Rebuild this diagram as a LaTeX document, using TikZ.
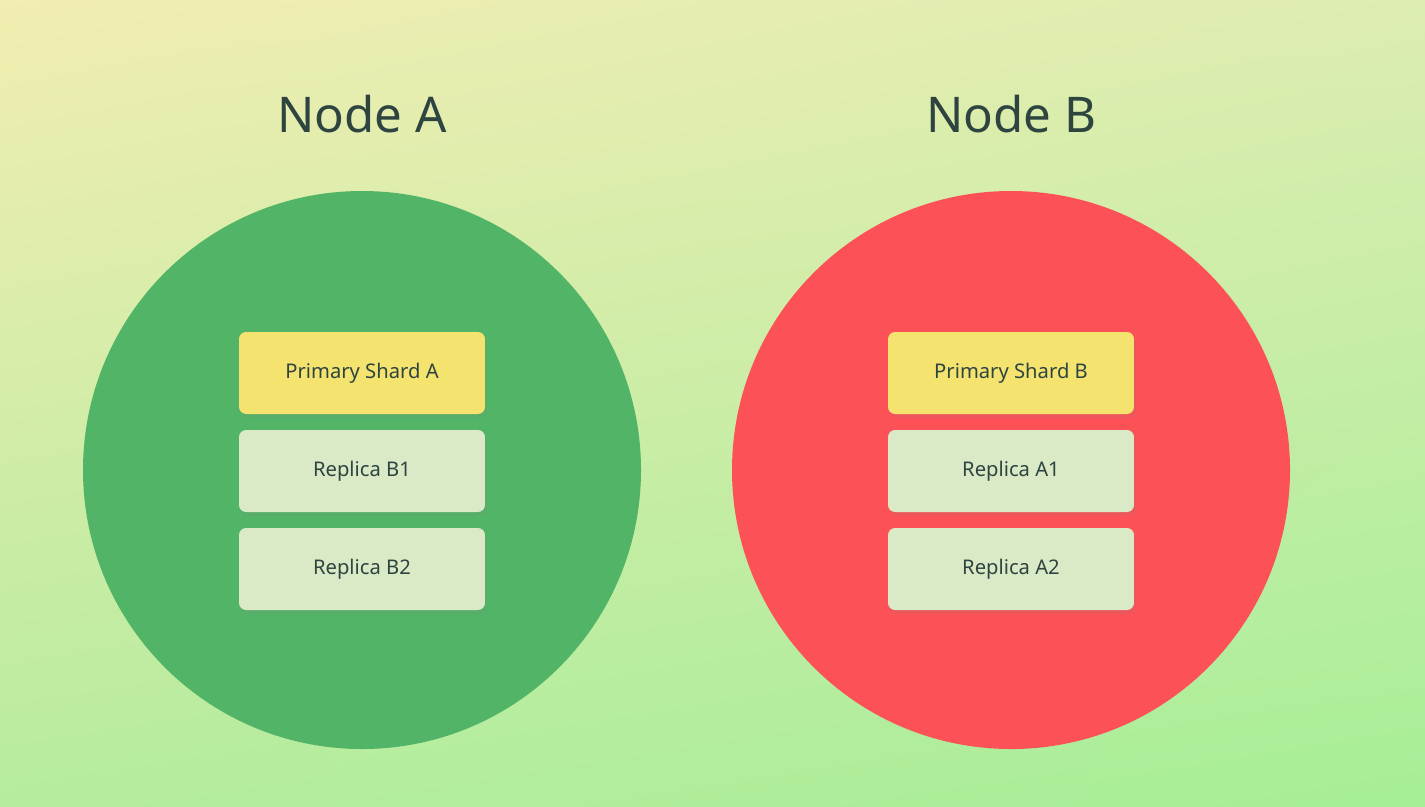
\documentclass[tikz,border=0pt]{standalone}
\usepackage{fontspec}
\setmainfont{Noto Sans}
\usetikzlibrary{shadows,shadings}
\definecolor{bgUL}{HTML}{F2EDB2}
\definecolor{bgUR}{HTML}{DDEDB0}
\definecolor{bgLL}{HTML}{B6EC9E}
\definecolor{bgLR}{HTML}{A6EE98}
\definecolor{okgreen}{HTML}{52B466}
\definecolor{downred}{HTML}{FC5257}
\definecolor{primfill}{HTML}{F5E370}
\definecolor{repfill}{HTML}{DAEAC7}
\definecolor{ink}{HTML}{2E4440}
\tikzset{
  shardbox/.style={rectangle, rounded corners=4pt, minimum width=4.92cm, minimum height=1.64cm,
    text=ink, font=\fontsize{11.5}{13}\selectfont\bfseries, drop shadow={opacity=0.12, shadow xshift=0.04cm, shadow yshift=-0.08cm}},
  primbox/.style={shardbox, fill=primfill},
  repbox/.style={shardbox, fill=repfill},
  title/.style={text=ink, font=\fontsize{28}{32}\selectfont\bfseries}
}
\begin{document}
\begin{tikzpicture}[x=0.02cm, y=-0.02cm]
	\shade[upper left=bgUL, upper right=bgUR, lower left=bgLL, lower right=bgLR] (0,0) rectangle (1425,806);
	\useasboundingbox (0,0) rectangle (1425,806);
	% node A
	\node[title] (TA) at (362, 114) {Node A};
	\fill[okgreen] (362, 470) circle[radius=279];
	\node[primbox] (PA) at (362, 373) {Primary Shard A};
	\node[repbox] (RB1) at (362, 471) {Replica B1};
	\node[repbox] (RB2) at (362, 569) {Replica B2};
	% node B
	\node[title] (TB) at (1011, 114) {Node B};
	\fill[downred] (1011, 470) circle[radius=279];
	\node[primbox] (PB) at (1011, 373) {Primary Shard B};
	\node[repbox] (RA1) at (1011, 471) {Replica A1};
	\node[repbox] (RA2) at (1011, 569) {Replica A2};
\end{tikzpicture}
\end{document}
